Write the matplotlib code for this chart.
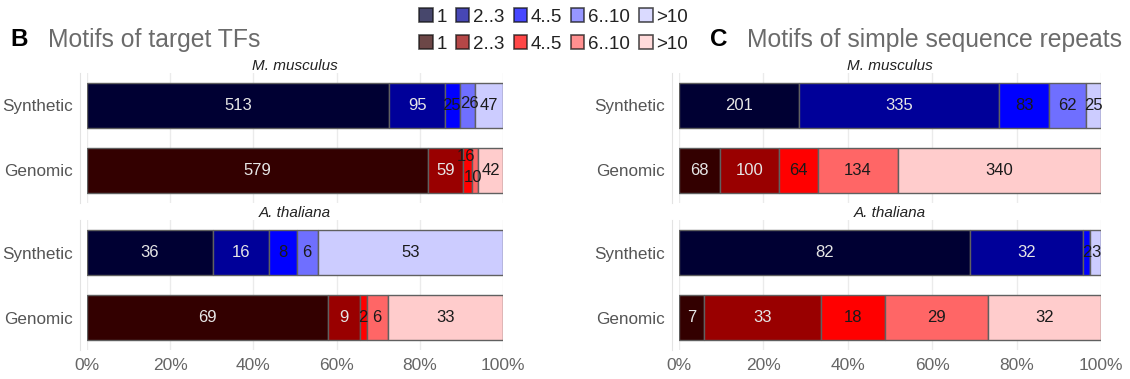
import matplotlib
matplotlib.use('Agg')
import matplotlib.pyplot as plt
from matplotlib.patches import Patch
import numpy as np

plt.rcParams['font.family'] = ['Liberation Sans', 'DejaVu Sans']

# Data: counts per motif-occurrence bin
bins = ['1', '2..3', '4..5', '6..10', '>10']
rows = ['Genomic', 'Synthetic']
species = ['M. musculus', 'A. thaliana']

tf_mm_syn = [513, 95, 25, 26, 47]
tf_mm_gen = [579, 59, 16, 10, 42]
tf_at_syn = [36, 16, 8, 6, 53]
tf_at_gen = [69, 9, 2, 6, 33]

ssr_mm_syn = [201, 335, 83, 62, 25]
ssr_mm_gen = [68, 100, 64, 134, 340]
ssr_at_syn = [82, 32, 2, 0, 3]
ssr_at_gen = [7, 33, 18, 29, 32]

blues = ['#000033', '#000099', '#0000ff', '#6f6fff', '#ccccff']
reds = ['#330000', '#990000', '#ff0000', '#ff6666', '#ffcccc']
dark_text = [True, True, False, False, False]

W, H = 1130, 379
fig = plt.figure(figsize=(11.3, 3.79), dpi=100)


def px_axes(x0, x1, y0, y1):
    # pixel box (top-left origin) -> figure axes
    return fig.add_axes([x0 / W, 1 - y1 / H, (x1 - x0) / W, (y1 - y0) / H])


def draw_facet(ax, syn, gen, name, show_x, nudges=None):
    nudges = nudges or {}
    for yi, (vals, cols) in enumerate([(gen, reds), (syn, blues)]):
        vals = np.array(vals, dtype=float)
        frac = vals / vals.sum()
        left = np.concatenate([[0], np.cumsum(frac)[:-1]])
        ax.barh(yi, frac, left=left, height=0.68, color=cols,
                edgecolor='#606060', linewidth=1.0, zorder=2)
        for k in range(len(vals)):
            if vals[k] == 0:
                continue
            dx, dy = nudges.get((yi, k), (0, 0))
            ax.text(left[k] + frac[k] / 2 + dx, yi + dy, '%d' % vals[k],
                    ha='center', va='center', fontsize=12,
                    color='#e6e6e6' if dark_text[k] else '#1a1a1a', zorder=3)
    ax.set_xlim(0, 1)
    ax.set_ylim(-0.5, 1.5)
    ax.set_yticks([0, 1])
    ax.set_yticklabels(rows)
    ax.set_xticks(np.linspace(0, 1, 6))
    ax.grid(axis='x', color='#ebebeb', linewidth=1.0, zorder=0)
    for s in ['top', 'right', 'bottom']:
        ax.spines[s].set_visible(False)
    ax.spines['left'].set_color('#e3e3e3')
    ax.spines['left'].set_position(('outward', 5))
    ax.tick_params(axis='y', length=0, pad=5, labelsize=12.3, labelcolor='#555555')
    ax.tick_params(axis='x', length=0, pad=6, labelsize=12.5, labelcolor='#666666')
    if show_x:
        ax.set_xticklabels(['%d%%' % v for v in range(0, 101, 20)])
    else:
        ax.set_xticklabels([])
    ax.text(0.5, 1.0, name, transform=ax.transAxes, ha='center', va='bottom',
            fontsize=11, style='italic', color='#222222')


panels = [
    (87, 503, tf_mm_syn, tf_mm_gen, tf_at_syn, tf_at_gen,
     {(1, 2): (-0.004, 0.0), (1, 3): (0.004, 0.03),
      (0, 2): (-0.004, 0.22), (0, 3): (-0.006, -0.1)}),
    (679, 1101, ssr_mm_syn, ssr_mm_gen, ssr_at_syn, ssr_at_gen, {}),
]
for x0, x1, mm_s, mm_g, at_s, at_g, nud in panels:
    ax_top = px_axes(x0, x1, 73, 203)
    draw_facet(ax_top, mm_s, mm_g, species[0], False, nud)
    ax_bot = px_axes(x0, x1, 220, 350)
    draw_facet(ax_bot, at_s, at_g, species[1], True)

# Panel letters and titles
fig.text(10 / W, 1 - 40 / H, 'B', fontsize=17.5, fontweight='bold', va='center')
fig.text(48 / W, 1 - 40 / H, 'Motifs of target TFs', fontsize=17.8,
         color='#6b6b6b', va='center')
fig.text(710 / W, 1 - 40 / H, 'C', fontsize=17.5, fontweight='bold', va='center')
fig.text(747 / W, 1 - 40 / H, 'Motifs of simple sequence repeats',
         fontsize=17.8, color='#6b6b6b', va='center')

# Two-row legend
for cols, ypx in [(blues, 17), (reds, 44)]:
    handles = [Patch(facecolor=c, edgecolor='#111111', alpha=0.72, linewidth=1.2)
               for c in cols]
    leg = fig.legend(handles, bins, ncol=5, loc='center left',
                     bbox_to_anchor=(410 / W, 1 - ypx / H), frameon=False,
                     fontsize=13.5, handlelength=0.7, handleheight=0.7,
                     handletextpad=0.2, columnspacing=0.5, borderpad=0)
    for t in leg.get_texts():
        t.set_color('#222222')

fig.savefig('out.png', dpi=100)
